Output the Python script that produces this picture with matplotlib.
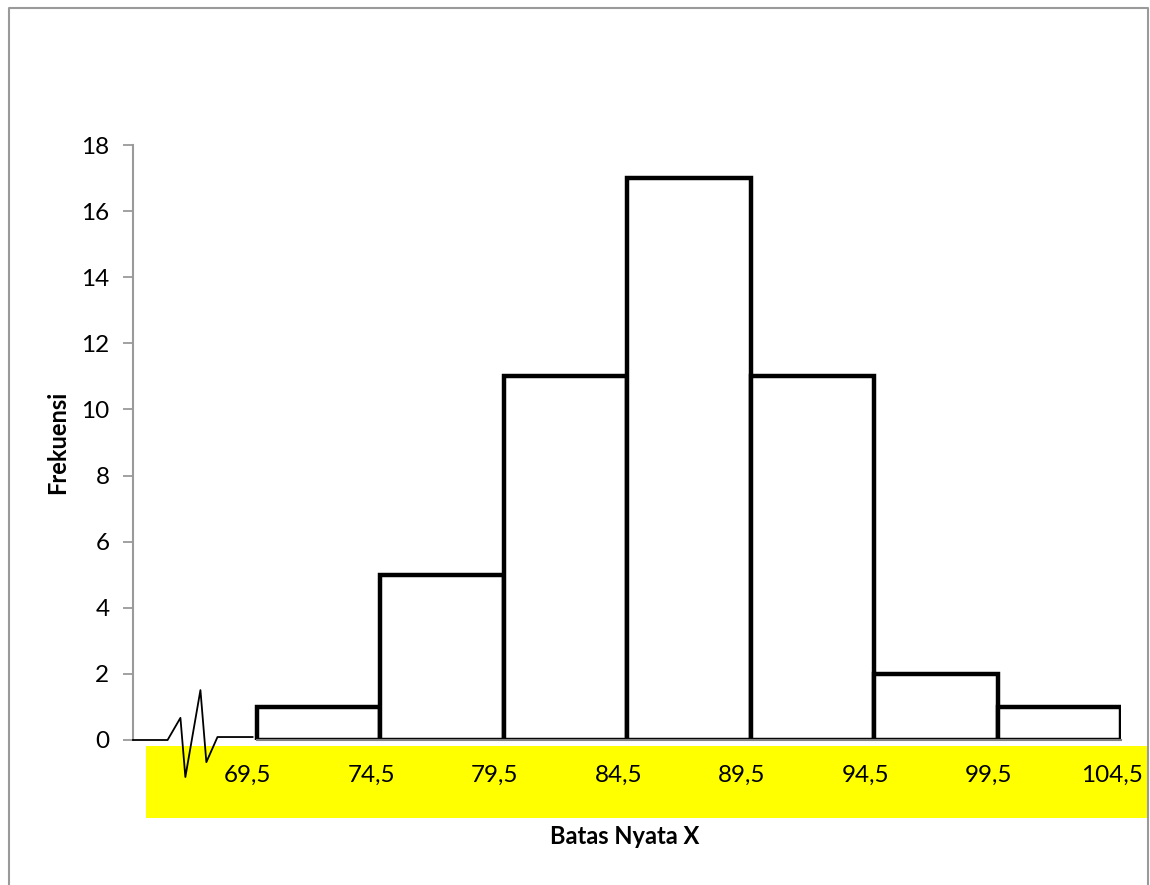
import matplotlib.pyplot as plt
from matplotlib.patches import Rectangle
from matplotlib.lines import Line2D

plt.rcParams['font.family'] = ['Lato', 'DejaVu Sans']

# data
batas = [69.5, 74.5, 79.5, 84.5, 89.5, 94.5, 99.5, 104.5]
frekuensi = [1, 5, 11, 17, 11, 2, 1]
label_batas = ['69,5', '74,5', '79,5', '84,5', '89,5', '94,5', '99,5', '104,5']

W, H = 1150, 885
fig = plt.figure(figsize=(W / 100, H / 100), dpi=100)

# outer frame (open at bottom)
fig.add_artist(Line2D([9 / W, 9 / W, 1148 / W, 1148 / W], [0, 1 - 8 / H, 1 - 8 / H, 0],
                      transform=fig.transFigure, color='#9a9a9a', lw=1.5))

# yellow band behind x labels
fig.add_artist(Rectangle((146 / W, 1 - 818 / H), 1001 / W, 72 / H,
                         transform=fig.transFigure, facecolor='#FFFF00', edgecolor='none', zorder=0))

ax = fig.add_axes([133 / W, 1 - 740 / H, 988 / W, 595 / H])
ax.patch.set_alpha(0)
ax.set_xlim(64.5, 104.5)
ax.set_ylim(0, 18)

widths = [b - a for a, b in zip(batas[:-1], batas[1:])]
ax.bar(batas[:-1], frekuensi, width=widths, align='edge', facecolor='white',
       edgecolor='black', linewidth=3.2, zorder=2)

# x axis line under bars
ax.plot([batas[0], batas[-1]], [0, 0], color='#808080', lw=1.5, zorder=3, clip_on=False)

# axis break zigzag
zx = [64.5, 65.9, 66.42, 66.62, 67.23, 67.47, 67.92, 69.34]
zy = [0, 0, 0.67, -1.12, 1.51, -0.67, 0.09, 0.09]
ax.plot(zx, zy, color='black', lw=1.3, clip_on=False, zorder=4)

for s in ['top', 'right', 'bottom']:
    ax.spines[s].set_visible(False)
ax.spines['left'].set_color('#9a9a9a')
ax.spines['left'].set_linewidth(1.5)

ax.set_yticks(range(0, 19, 2))
ax.tick_params(axis='y', length=7, width=1.3, color='#9a9a9a', labelsize=17.5, pad=10)
ax.set_xticks([])

for xb, lab in zip(batas, label_batas):
    ax.text(xb - 0.35, -1.08, lab, ha='center', va='center', fontsize=17.5, clip_on=False)

ax.set_ylabel('Frekuensi', fontsize=17, fontweight='bold', labelpad=9)
fig.text(625 / W, 1 - 836 / H, 'Batas Nyata X', ha='center', va='center',
         fontsize=17, fontweight='bold')

fig.savefig('out.png', dpi=100, facecolor='white')
